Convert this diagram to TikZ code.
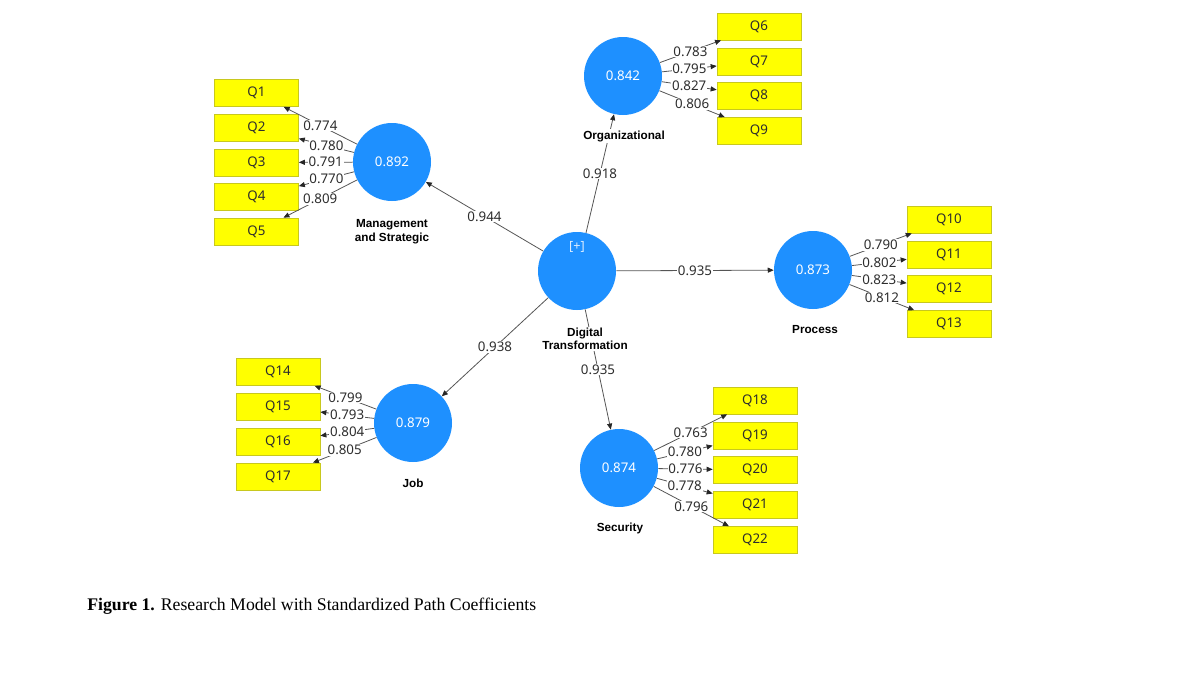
\documentclass[tikz,border=0pt]{standalone}
\usepackage{fontspec}
\setmainfont{Liberation Serif}
\newfontfamily\uifont{Noto Sans}
\newfontfamily\namefont{Liberation Sans}
\usetikzlibrary{arrows.meta}
\definecolor{plsblue}{RGB}{30,144,255}
\definecolor{itemfill}{RGB}{255,255,0}
\definecolor{itemdraw}{RGB}{200,200,30}
\definecolor{linegray}{RGB}{85,85,85}
\definecolor{txtgray}{RGB}{45,45,45}
\begin{document}
\begin{tikzpicture}[x=0.75pt,y=-0.75pt,
  construct/.style={circle,fill=plsblue,minimum size=58.5pt,inner sep=0pt,text=white,font=\uifont\fontsize{10}{11}\selectfont},
  item/.style={draw=itemdraw,line width=0.5pt,fill=itemfill,minimum width=63pt,minimum height=20.25pt,inner sep=0pt,text=txtgray,font=\uifont\fontsize{10}{11}\selectfont},
  cname/.style={fill=white,font=\namefont\bfseries\fontsize{8.8}{10.2}\selectfont,align=center,inner sep=1pt,text=black},
  lbl/.style={fill=white,inner sep=0.6pt,font=\uifont\fontsize{10}{10}\selectfont,text=txtgray},
  conn/.style={draw=linegray,line width=0.6pt,-{Triangle[length=4.5pt,width=3.8pt,color=black!85]}}
]
\useasboundingbox (0,0) rectangle (1180,678);

% constructs
\node[construct] (dt) at (577,271) {};
\node[text=white!85!plsblue,font=\uifont\fontsize{9.5}{10}\selectfont] (plus) at (577,247) {[+]};
\node[construct] (ms) at (392,162) {0.892};
\node[construct] (org) at (623,76) {0.842};
\node[construct] (proc) at (813,270) {0.873};
\node[construct] (job) at (413,423) {0.879};
\node[construct] (sec) at (619,468) {0.874};

% indicators
\node[item] (q1) at (256.5,93) {Q1};
\node[item] (q2) at (256.5,128) {Q2};
\node[item] (q3) at (256.5,162.5) {Q3};
\node[item] (q4) at (256.5,197) {Q4};
\node[item] (q5) at (256.5,231.5) {Q5};

\node[item] (q6) at (759,26.5) {Q6};
\node[item] (q7) at (759,61.5) {Q7};
\node[item] (q8) at (759,96) {Q8};
\node[item] (q9) at (759,131) {Q9};

\node[item] (q10) at (949,219.5) {Q10};
\node[item] (q11) at (949,254.5) {Q11};
\node[item] (q12) at (949,289) {Q12};
\node[item] (q13) at (949,324) {Q13};

\node[item] (q14) at (278,372) {Q14};
\node[item] (q15) at (278,407) {Q15};
\node[item] (q16) at (278,441.5) {Q16};
\node[item] (q17) at (278,476.5) {Q17};

\node[item] (q18) at (755,400.5) {Q18};
\node[item] (q19) at (755,435.5) {Q19};
\node[item] (q20) at (755,470) {Q20};
\node[item] (q21) at (755,505) {Q21};
\node[item] (q22) at (755,540) {Q22};

% structural paths
\draw[conn] (dt) -- node[lbl,midway] {0.944} (ms);
\draw[conn] (dt) -- node[lbl,midway] {0.918} (org);
\draw[conn] (dt) -- node[lbl,midway] {0.935} (proc);
\draw[conn] (dt) -- node[lbl,midway] {0.938} (job);
\draw[conn] (dt) -- node[lbl,midway] {0.935} (sec);

% loadings
\draw[conn] (ms) -- node[lbl,midway] {0.774} (q1);
\draw[conn] (ms) -- node[lbl,midway] {0.780} (q2);
\draw[conn] (ms) -- node[lbl,midway] {0.791} (q3);
\draw[conn] (ms) -- node[lbl,midway] {0.770} (q4);
\draw[conn] (ms) -- node[lbl,midway] {0.809} (q5);

\draw[conn] (org) -- node[lbl,midway] {0.783} (q6);
\draw[conn] (org) -- node[lbl,midway] {0.795} (q7);
\draw[conn] (org) -- node[lbl,midway] {0.827} (q8);
\draw[conn] (org) -- node[lbl,midway] {0.806} (q9);

\draw[conn] (proc) -- node[lbl,midway] {0.790} (q10);
\draw[conn] (proc) -- node[lbl,midway] {0.802} (q11);
\draw[conn] (proc) -- node[lbl,midway] {0.823} (q12);
\draw[conn] (proc) -- node[lbl,midway] {0.812} (q13);

\draw[conn] (job) -- node[lbl,midway] {0.799} (q14);
\draw[conn] (job) -- node[lbl,midway] {0.793} (q15);
\draw[conn] (job) -- node[lbl,midway] {0.804} (q16);
\draw[conn] (job) -- node[lbl,midway] {0.805} (q17);

\draw[conn] (sec) -- node[lbl,midway] {0.763} (q18);
\draw[conn] (sec) -- node[lbl,midway] {0.780} (q19);
\draw[conn] (sec) -- node[lbl,midway] {0.776} (q20);
\draw[conn] (sec) -- node[lbl,midway] {0.778} (q21);
\draw[conn] (sec) -- node[lbl,midway] {0.796} (q22);

% construct names
\node[cname] (dtname) at (585,339) {Digital\\Transformation};
\node[cname] (msname) at (392,231.5) {Management\\and Strategic};
\node[cname] (orgname) at (624,136) {Organizational};
\node[cname] (procname) at (815,330) {Process};
\node[cname] (jobname) at (413,483) {Job};
\node[cname] (secname) at (620,528) {Security};

% caption
\node[anchor=base west,inner sep=0pt,font=\fontsize{13.3}{15}\selectfont] (caption) at (87,610) {\textbf{Figure 1.} Research Model with Standardized Path Coefficients};
\end{tikzpicture}
\end{document}
